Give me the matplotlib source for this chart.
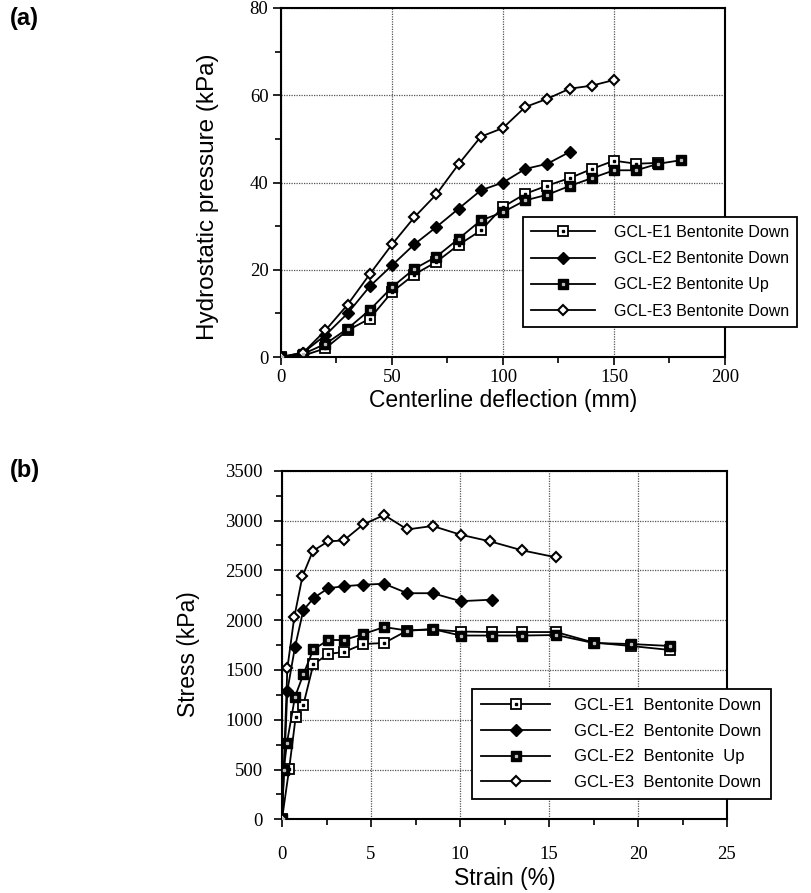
import matplotlib
matplotlib.use("Agg")
import matplotlib.pyplot as plt
from matplotlib.ticker import MultipleLocator

# ---------------- Panel (a) data ----------------
a_e1_x = [0, 10, 20, 30, 40, 50, 60, 70, 80, 90, 100, 110, 120, 130, 140, 150, 160, 170]
a_e1_y = [0, 0.3, 2, 6.1, 8.8, 14.9, 18.9, 21.8, 25.7, 29.0, 34.4, 37.4, 39.3, 41.0, 43.1, 45.0, 44.3, 44.5]
a_e2d_x = [0, 10, 20, 30, 40, 50, 60, 70, 80, 90, 100, 110, 120, 130]
a_e2d_y = [0, 1, 5, 10, 16.2, 21, 25.8, 29.8, 34, 38.2, 40, 43.1, 44.3, 47]
a_e2u_x = [0, 10, 20, 30, 40, 50, 60, 70, 80, 90, 100, 110, 120, 130, 140, 150, 160, 170, 180]
a_e2u_y = [0, 0.7, 3, 6.5, 10.8, 16, 20.2, 23, 27.1, 31.3, 33.2, 35.9, 37.2, 39.2, 41, 42.8, 42.8, 44.3, 45.1]
a_e3_x = [0, 10, 20, 30, 40, 50, 60, 70, 80, 90, 100, 110, 120, 130, 140, 150]
a_e3_y = [0, 1, 6.1, 12, 19, 25.8, 32, 37.3, 44.2, 50.5, 52.5, 57.3, 59.2, 61.5, 62.2, 63.5]

# ---------------- Panel (b) data ----------------
b_e1_x = [0, 0.4, 0.77, 1.2, 1.76, 2.6, 3.48, 4.57, 5.74, 7.04, 8.46, 10.04, 11.8, 13.5, 15.4, 17.5, 19.6, 21.8]
b_e1_y = [0, 505, 1030, 1150, 1555, 1660, 1680, 1760, 1770, 1895, 1905, 1885, 1880, 1880, 1880, 1775, 1740, 1700]
b_e2d_x = [0, 0.3, 0.73, 1.2, 1.8, 2.6, 3.48, 4.57, 5.74, 7.04, 8.46, 10.04, 11.8]
b_e2d_y = [0, 1290, 1730, 2100, 2225, 2320, 2340, 2355, 2365, 2270, 2270, 2190, 2205]
b_e2u_x = [0, 0.1, 0.28, 0.73, 1.2, 1.76, 2.6, 3.48, 4.57, 5.74, 7.04, 8.46, 10.04, 11.8, 13.5, 15.4, 17.5, 19.6, 21.8]
b_e2u_y = [0, 500, 770, 1230, 1455, 1705, 1800, 1800, 1860, 1930, 1895, 1910, 1845, 1845, 1845, 1850, 1770, 1760, 1740]
b_e3_x = [0, 0.3, 0.69, 1.15, 1.74, 2.59, 3.47, 4.56, 5.74, 7.04, 8.46, 10.04, 11.7, 13.5, 15.4]
b_e3_y = [0, 1515, 2030, 2440, 2695, 2790, 2800, 2960, 3055, 2910, 2945, 2857, 2790, 2700, 2630]

labels_a = ["GCL-E1 Bentonite Down", "GCL-E2 Bentonite Down",
            "GCL-E2 Bentonite Up", "GCL-E3 Bentonite Down"]
labels_b = ["GCL-E1  Bentonite Down", "GCL-E2  Bentonite Down",
            "GCL-E2  Bentonite  Up", "GCL-E3  Bentonite Down"]

SANS = ["Liberation Sans", "DejaVu Sans"]
SERIF = ["Liberation Serif", "DejaVu Serif"]
W, H = 812, 893

fig = plt.figure(figsize=(W / 100, H / 100), dpi=100)
ax_a = fig.add_axes([281/W, 1-357/H, (725-281)/W, (357-8)/H])
ax_b = fig.add_axes([282/W, 1-819.3/H, (727-282)/W, (819.3-470.7)/H])

LW = 1.3


def draw_series(ax, xs, ys, kind):
    if kind == "e1":
        l1, = ax.plot(xs, ys, color="black", lw=LW, marker="s", ms=6.5,
                      mfc="white", mec="black", mew=1.3, zorder=3)
        l2, = ax.plot(xs, ys, ls="none", marker="s", ms=1.6, mfc="black",
                      mec="black", zorder=4)
        return (l1, l2)
    if kind == "e2d":
        l1, = ax.plot(xs, ys, color="black", lw=LW, marker="D", ms=6,
                      mfc="black", mec="black", zorder=3)
        return (l1,)
    if kind == "e2u":
        l1, = ax.plot(xs, ys, color="black", lw=LW, marker="s", ms=7,
                      mfc="black", mec="black", zorder=3)
        l2, = ax.plot(xs, ys, ls="none", marker="s", ms=1.4, mfc="#bbbbbb",
                      mec="#bbbbbb", zorder=4)
        return (l1, l2)
    l1, = ax.plot(xs, ys, color="black", lw=LW, marker="D", ms=5.5,
                  mfc="white", mec="black", mew=1.5, zorder=3)
    return (l1,)


def style(ax, xmaj, xmin, ymaj, ymin, xlim, ylim, xpad, ypad):
    ax.set_xlim(*xlim)
    ax.set_ylim(*ylim)
    ax.xaxis.set_major_locator(MultipleLocator(xmaj))
    ax.xaxis.set_minor_locator(MultipleLocator(xmin))
    ax.yaxis.set_major_locator(MultipleLocator(ymaj))
    ax.yaxis.set_minor_locator(MultipleLocator(ymin))
    ax.grid(True, which="major", color="#555555", ls=(0, (1, 1)), lw=0.9)
    ax.tick_params(which="major", direction="out", length=6, width=1.2,
                   labelsize=13.5)
    ax.tick_params(axis="x", which="major", pad=xpad)
    ax.tick_params(axis="y", which="major", pad=ypad)
    ax.tick_params(which="minor", direction="out", length=4, width=1.2)
    for s in ax.spines.values():
        s.set_linewidth(1.5)
    for lab in ax.get_xticklabels() + ax.get_yticklabels():
        lab.set_family(SERIF)
    ax.set_axisbelow(True)


def legend(ax, handles, labels, left_px, top_px, size, hl, htp, ls, bp):
    leg = ax.legend([tuple(h) for h in handles], labels, loc="upper left",
                    bbox_to_anchor=(left_px / W, 1 - top_px / H),
                    bbox_transform=fig.transFigure,
                    prop={"family": SANS, "size": size},
                    handlelength=hl, handletextpad=htp, labelspacing=ls,
                    borderpad=bp, fancybox=False, edgecolor="black",
                    framealpha=1, borderaxespad=0)
    leg.get_frame().set_linewidth(1.3)
    leg.set_clip_on(False)
    return leg


# Panel (a)
ha = [draw_series(ax_a, a_e1_x, a_e1_y, "e1"),
      draw_series(ax_a, a_e2d_x, a_e2d_y, "e2d"),
      draw_series(ax_a, a_e2u_x, a_e2u_y, "e2u"),
      draw_series(ax_a, a_e3_x, a_e3_y, "e3")]
style(ax_a, 50, 25, 20, 10, (0, 200), (0, 80), 3, 3)
ax_a.set_xlabel("Centerline deflection (mm)", family=SANS, fontsize=16.5)
ax_a.xaxis.label.set_va("center")
ax_a.xaxis.set_label_coords(0.5, (357 - 401) / 349)
ax_a.set_ylabel("Hydrostatic pressure (kPa)", family=SANS, fontsize=17.5)
ax_a.yaxis.label.set_va("center")
ax_a.yaxis.set_label_coords((208 - 281) / 444, (357 - 197) / 349)
legend(ax_a, ha, labels_a, 523, 217, 11.5, 4.0, 1.2, 0.7, 0.5)

# Panel (b)
hb = [draw_series(ax_b, b_e1_x, b_e1_y, "e1"),
      draw_series(ax_b, b_e2d_x, b_e2d_y, "e2d"),
      draw_series(ax_b, b_e2u_x, b_e2u_y, "e2u"),
      draw_series(ax_b, b_e3_x, b_e3_y, "e3")]
style(ax_b, 5, 2.5, 500, 250, (0, 25), (0, 3500), 13, 8)
ax_b.set_xlabel("Strain (%)", family=SANS, fontsize=16.5)
ax_b.xaxis.label.set_va("center")
ax_b.xaxis.set_label_coords(0.5, (819.3 - 878) / 348.6)
ax_b.set_ylabel("Stress (kPa)", family=SANS, fontsize=16.5)
ax_b.yaxis.label.set_va("center")
ax_b.yaxis.set_label_coords((188 - 282) / 445, (819.3 - 654) / 348.6)
legend(ax_b, hb, labels_b, 472, 689, 12, 4.15, 1.45, 0.64, 0.55)

fig.text(10/W, 1-18/H, "(a)", family=SANS, fontsize=17, fontweight="bold",
         va="center", ha="left")
fig.text(10/W, 1-470/H, "(b)", family=SANS, fontsize=17, fontweight="bold",
         va="center", ha="left")

fig.savefig("out.png", dpi=100)
